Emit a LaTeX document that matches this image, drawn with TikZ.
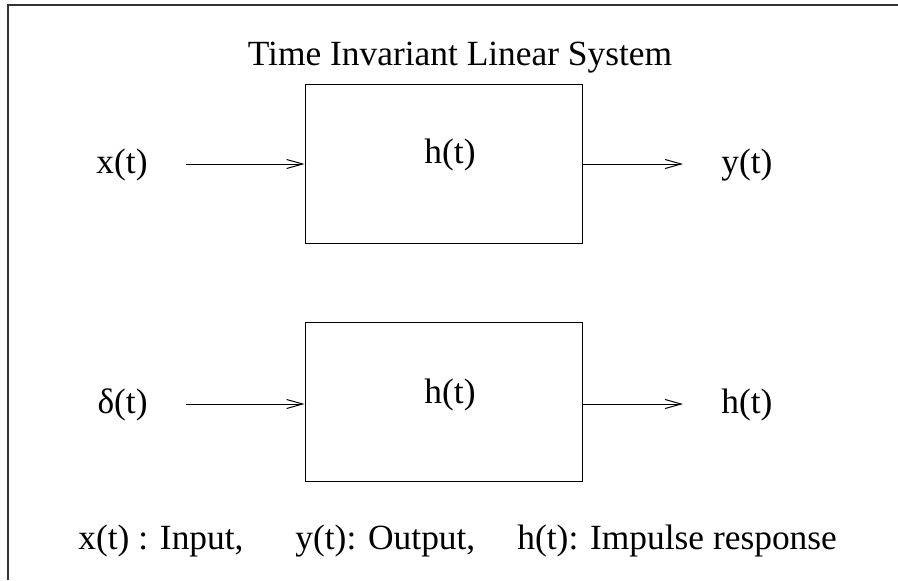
\documentclass[tikz,border=0pt]{standalone}
\usepackage{fontspec}
\setmainfont{Liberation Serif}
\usetikzlibrary{arrows.meta,positioning}
\tikzset{
  >={Straight Barb[length=8pt,width=4.5pt]},
  x=0.5pt,y=-0.5pt,
  lbl/.style={font=\fontsize{17.7}{21}\selectfont,inner sep=0pt},
  sysbox/.style={draw,line width=0.5pt,minimum width=138.5pt,
    minimum height=79.5pt,inner sep=0pt},
  flow/.style={->,line width=0.5pt},
  frameline/.style={line width=0.6pt,black!80},
}
\begin{document}
\begin{tikzpicture}
  \useasboundingbox (0,0) rectangle (898,580);
  \draw[frameline] (8,580) -- (8,5) -- (898,5);
  % title
  \node[lbl,anchor=base] (title) at (460,65) {Time Invariant Linear System};
  % upper system
  \node[sysbox] (sysA) at (443.5,163.5) {};
  \node[lbl,anchor=base] (hA) at (450,163) {h(t)};
  \node[lbl,anchor=base east] (xin) at (148,173) {x(t)};
  \node[lbl,anchor=base west] (yout) at (721,173) {y(t)};
  \draw[flow,shorten <=19pt] (xin.east |- 0,164) -- (sysA.west |- 0,164);
  \draw[flow,shorten >=19pt] (sysA.east |- 0,164) -- (yout.west |- 0,164);
  % lower system
  \node[sysbox] (sysB) at (443.5,401.5) {};
  \node[lbl,anchor=base] (hB) at (450,403) {h(t)};
  \node[lbl,anchor=base east] (din) at (148,413) {δ(t)};
  \node[lbl,anchor=base west] (hout) at (721,413) {h(t)};
  \draw[flow,shorten <=19pt] (din.east |- 0,404) -- (sysB.west |- 0,404);
  \draw[flow,shorten >=19pt] (sysB.east |- 0,404) -- (hout.west |- 0,404);
  % legend
  \node[lbl,anchor=base west] (legx) at (78,549) {x(t) : Input,};
  \node[lbl,anchor=base west] (legy) at (295,549) {y(t): Output,};
  \node[lbl,anchor=base west] (legh) at (517,549) {h(t): Impulse response};
\end{tikzpicture}
\end{document}
